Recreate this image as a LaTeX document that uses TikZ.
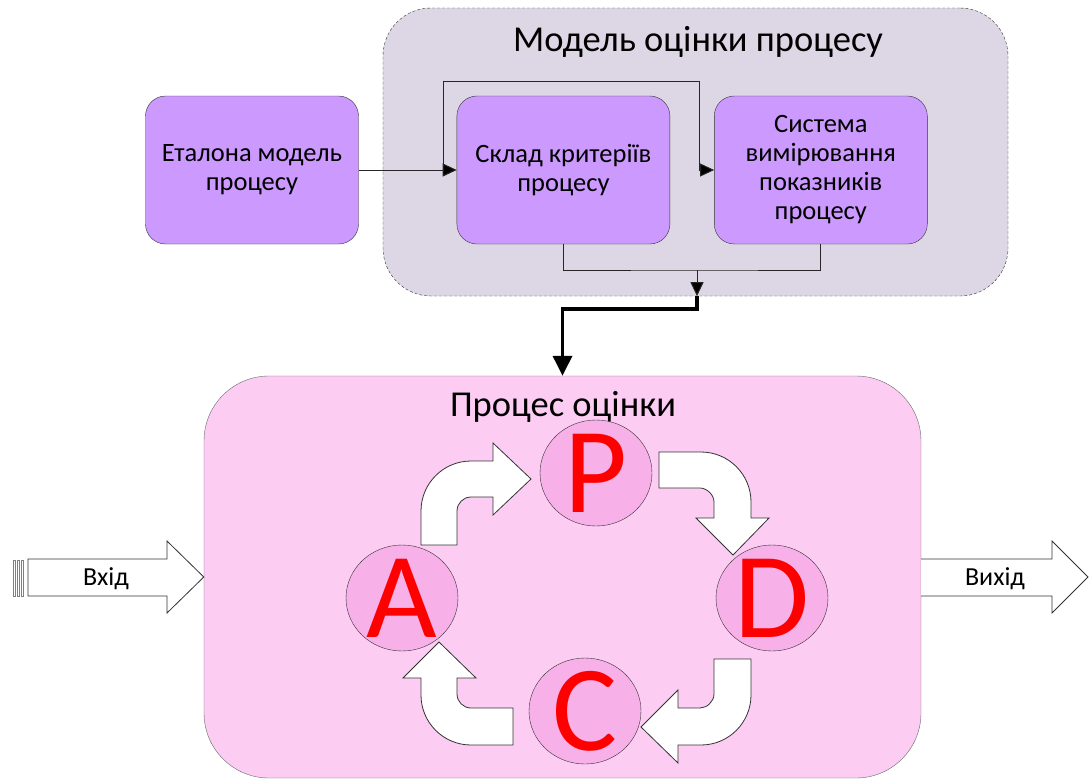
\documentclass[tikz,border=0pt]{standalone}
\usepackage{fontspec}
\setmainfont{Carlito}
\usetikzlibrary{calc}
\usetikzlibrary{positioning}
\usetikzlibrary{arrows.meta}
\usetikzlibrary{shapes.geometric}

\definecolor{modelgray}{RGB}{221,215,229}
\definecolor{boxviolet}{RGB}{204,153,255}
\definecolor{procpink}{RGB}{252,204,243}
\definecolor{phasepink}{RGB}{248,176,232}
\definecolor{edgegray}{RGB}{105,105,105}

\tikzset{
  stagebox/.style={draw=black!80,fill=boxviolet,rounded corners=20pt,
    minimum width=213pt,minimum height=148pt,inner sep=0pt,align=center,
    font=\fontsize{26.5}{29}\selectfont},
  phase/.style={ellipse,draw=black!80,fill=phasepink,
    minimum width=112pt,minimum height=106pt,inner sep=0pt},
  letter/.style={text=red,inner sep=0pt,font=\fontsize{122}{122}\selectfont},
  turn/.style={draw=black!80,fill=white,line width=0.8pt},
  link/.style={draw=black!85,line width=1pt},
  conn/.style={link,-{Triangle[length=14pt,width=13pt,fill=black]}},
  bigconn/.style={draw=black,line width=3.5pt,-{Triangle[length=20pt,width=19pt]}},
  caption/.style={inner sep=0pt,font=\fontsize{26}{30}\selectfont}
}

\begin{document}
\begin{tikzpicture}[x=1pt,y=-1pt]
      \useasboundingbox (0,0) rectangle (1089,779);

      % model of the process
      \node[draw=black!80,dashed,dash pattern=on 3pt off 2pt,fill=modelgray,
        rounded corners=48pt,minimum width=625pt,minimum height=288pt] (model) at (695.5,152) {};
      \node[inner sep=0pt,font=\fontsize{36.5}{40}\selectfont] (modeltitle) at (698,42) {Модель оцінки процесу};

      \node[stagebox] (etalon) at (252,170) {Еталона модель\\процесу};
      \node[stagebox,right=98pt of etalon] (sklad) {Склад критеріїв\\процесу};
      \node[stagebox,right=44pt of sklad] (sistema) {Система\\вимірювання\\показників\\процесу};

      \coordinate (loopa) at (443,81);
      \coordinate (loopb) at (699,81);
      \coordinate (merge) at (697,270);

      \draw[conn] (etalon.east) -- (sklad.west);
      \draw[conn] (etalon.east) -| (loopa) -- (loopb) |- (sistema.west);
      \draw[link] (sklad.south) |- (merge) -| (sistema.south);
      \draw[conn] (merge) -- (merge |- model.south);

      % assessment process
      \node[draw=edgegray,fill=procpink,rounded corners=65pt,
        minimum width=717pt,minimum height=402pt] (proc) at (562.5,577) {};
      \node[inner sep=0pt,font=\fontsize{36.5}{40}\selectfont] (proctitle) at (563,407) {Процес оцінки};

      \draw[bigconn] (merge |- model.south) -- ++(0,13) -| (proc.north);

      % input and output
      \foreach \sx in {13,17,21}
        \draw[draw=gray,fill=white,line width=0.6pt] (\sx,560) rectangle (\sx+2,596);
      \draw[turn] (28,559) -- (167,559) -- (167,541) -- (proc.west) -- (167,613) -- (167,596) -- (28,596) -- cycle;
      \node[caption] (vkhid) at (106,579) {Вхід};
      \draw[turn] (proc.east |- 0,559) -- (1052,559) -- (1052,541) -- (1088,577) -- (1052,613) -- (1052,596) -- (proc.east |- 0,596);
      \node[caption] (vykhid) at (995,579) {Вихід};

      % PDCA
      \node[phase] (P) at (596,473) {};
      \node[phase] (D) at (772,598) {};
      \node[phase] (C) at (585,711) {};
      \node[phase] (A) at (402,598) {};
      \node[letter] at (P) {P};
      \node[letter] at (D) {D};
      \node[letter] at (C) {C};
      \node[letter] at (A) {A};

      % A -> P
      \draw[turn] (421,545) -- (421,511) .. controls (421,483.4) and (443.4,461) .. (471,461)
        -- (493,461) -- (493,443) -- (531,479) -- (493,515) -- (493,497) -- (471,497)
        .. controls (463.3,497) and (457,503.3) .. (457,511) -- (457,545) -- cycle;
      % P -> D
      \draw[turn] (659,452) -- (701,452) .. controls (728.6,452) and (751,474.4) .. (751,502)
        -- (751,518) -- (769,518) -- (733,555) -- (696,518) -- (714,518) -- (714,502)
        .. controls (714,494.3) and (706.3,488) .. (700,488) -- (659,488) -- cycle;
      % D -> C
      \draw[turn] (714,659) -- (751,659) -- (751,695) .. controls (751,722.6) and (728.6,745) .. (701,745)
        -- (678,745) -- (678,763) -- (641,727) -- (678,690) -- (678,708) -- (700,708)
        .. controls (706.7,708) and (714,701.7) .. (714,694) -- cycle;
      % C -> A
      \draw[turn] (513,708) -- (513,745) -- (471,745) .. controls (443.4,745) and (421,722.6) .. (421,695)
        -- (421,678) -- (403,678) -- (439,642) -- (476,678) -- (457,678) -- (457,694)
        .. controls (457,701.7) and (463.3,708) .. (471,708) -- cycle;
    \end{tikzpicture}
\end{document}
